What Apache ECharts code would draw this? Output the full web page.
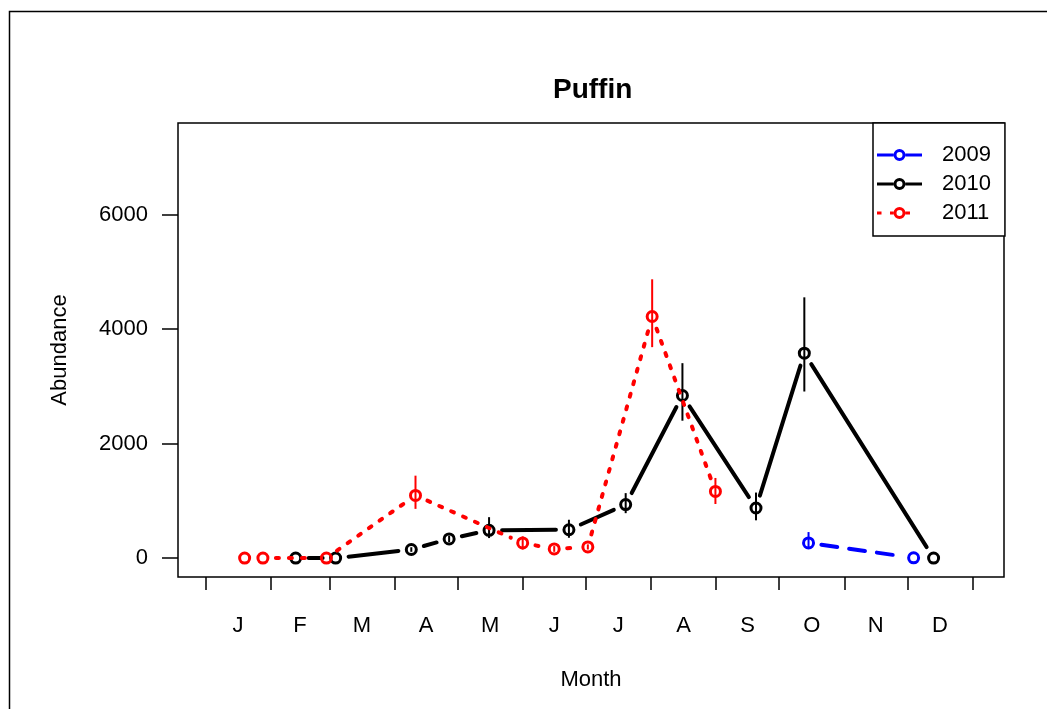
<!DOCTYPE html>
<html>
<head>
<meta charset="utf-8">
<title>Puffin</title>
<script src="https://cdn.jsdelivr.net/npm/echarts@6/dist/echarts.min.js"></script>
<style>
  html, body { margin: 0; padding: 0; background: #fff; }
  #chart { width: 1047px; height: 709px; }
</style>
</head>
<body>
<div id="chart"></div>
<script>
// day of year for month boundaries (ticks) and month middles (labels)
const monthStarts = [0, 31, 59, 90, 120, 151, 181, 212, 243, 273, 304, 334, 365]
const monthMids = [15.5, 45, 74.5, 105, 135.5, 166, 196.5, 227.5, 258, 288.5, 319, 349.5]
const monthLabels = ['J', 'F', 'M', 'A', 'M', 'J', 'J', 'A', 'S', 'O', 'N', 'D']
const yTicks = [0, 2000, 4000, 6000]

// 2009
const day2009 = [287, 337]
const abund2009 = [265, 5]
const lo2009 = [180, 5]
const hi2009 = [455, 5]

// 2010
const day2010 = [43, 62, 98, 116, 135, 173, 200, 227, 262, 285, 346.5]
const abund2010 = [0, 0, 150, 335, 485, 495, 935, 2840, 875, 3580, 0]
const lo2010 = [0, 0, 110, 280, 350, 355, 785, 2400, 660, 2910, 0]
const hi2010 = [0, 0, 190, 390, 715, 670, 1135, 3405, 1145, 4555, 0]

// 2011
const day2011 = [18.7, 27.4, 57.6, 100, 151, 166, 182, 212.6, 242.7]
const abund2011 = [0, 0, 0, 1095, 265, 160, 195, 4220, 1165]
const lo2011 = [0, 0, 0, 860, 150, 110, 150, 3685, 945]
const hi2011 = [0, 0, 0, 1440, 380, 210, 240, 4870, 1400]

const font = '"Liberation Sans", Arial, Helvetica, sans-serif'

function buildData(days, vals, lo, hi) {
  return days.map((d, i) => [d, vals[i], lo[i], hi[i]])
}

// R type = "b": circles, line segments that stop short of each point, plus error bars
function makeRender(color, dash, width) {
  const gap = 13
  return function(params, api) {
    const i = params.dataIndex
    const n = params.dataInsideLength
    const p = api.coord([api.value(0), api.value(1)])
    const children = []
    const lo = api.value(2)
    const hi = api.value(3)
    if (hi > lo) {
      const a = api.coord([api.value(0), lo])
      const b = api.coord([api.value(0), hi])
      children.push({
        type: 'line',
        shape: { x1: a[0], y1: a[1], x2: b[0], y2: b[1] },
        style: { stroke: color, lineWidth: 2 }
      })
    }
    if (i < n - 1) {
      const q = api.coord([api.value(0, i + 1), api.value(1, i + 1)])
      const dx = q[0] - p[0]
      const dy = q[1] - p[1]
      const len = Math.sqrt(dx * dx + dy * dy)
      if (len > 2 * gap) {
        const ux = dx / len
        const uy = dy / len
        children.push({
          type: 'line',
          shape: {
            x1: p[0] + ux * gap, y1: p[1] + uy * gap,
            x2: q[0] - ux * gap, y2: q[1] - uy * gap
          },
          style: { stroke: color, lineWidth: width, lineDash: dash, lineCap: 'round' }
        })
      }
    }
    children.push({
      type: 'circle',
      shape: { cx: p[0], cy: p[1], r: 5 },
      style: { fill: null, stroke: color, lineWidth: 3 }
    })
    return { type: 'group', children: children }
  }
}

const ring = 'M16.5,6 A6,6 0 1,1 28.5,6 A6,6 0 1,1 16.5,6 Z M19.5,6 A3,3 0 1,0 25.5,6 A3,3 0 1,0 19.5,6 Z'
const iconSolid = 'path://M0,0 M45,12 M0,4.5 L16.5,4.5 L16.5,7.5 L0,7.5 Z M28.5,4.5 L45,4.5 L45,7.5 L28.5,7.5 Z ' + ring
const iconDotted = 'path://M0,0 M45,12 M0,4.5 L4.5,4.5 L4.5,7.5 L0,7.5 Z M13,4.5 L16.5,4.5 L16.5,7.5 L13,7.5 Z M28.5,4.5 L33,4.5 L33,7.5 L28.5,7.5 Z ' + ring

const chart = echarts.init(document.getElementById('chart'))

chart.setOption({
  backgroundColor: '#fff',
  animation: false,
  title: {
    text: 'Puffin',
    left: 548,
    top: 71,
    textStyle: { fontFamily: font, fontSize: 28, fontWeight: 'bold', color: '#000' }
  },
  graphic: [{
    type: 'rect',
    shape: { x: 9.5, y: 11.5, width: 1200, height: 900 },
    style: { fill: null, stroke: '#000', lineWidth: 1.5 },
    silent: true
  }],
  legend: {
    orient: 'vertical',
    left: 873,
    top: 123,
    padding: [21, 14, 12, 4],
    itemGap: 7,
    itemWidth: 45,
    itemHeight: 12,
    borderColor: '#000',
    borderWidth: 1.5,
    backgroundColor: '#fff',
    itemStyle: { borderWidth: 0 },
    textStyle: { fontFamily: font, fontSize: 22, color: '#000', padding: [0, 0, 0, 15] },
    data: [
      { name: '2009', icon: iconSolid },
      { name: '2010', icon: iconSolid },
      { name: '2011', icon: iconDotted }
    ]
  },
  grid: {
    left: 178,
    right: 43,
    top: 123,
    bottom: 132,
    show: true,
    borderColor: '#000',
    borderWidth: 1.5,
    backgroundColor: 'transparent'
  },
  xAxis: {
    type: 'value',
    min: -13,
    max: 380,
    name: 'Month',
    nameLocation: 'middle',
    nameGap: 92,
    nameTextStyle: { fontFamily: font, fontSize: 22, color: '#000' },
    splitLine: { show: false },
    axisLine: { show: false, onZero: false },
    axisTick: {
      show: true,
      length: 13,
      customValues: monthStarts,
      lineStyle: { color: '#000', width: 1.5 }
    },
    axisLabel: {
      customValues: monthMids,
      margin: 38,
      fontFamily: font,
      fontSize: 22,
      color: '#000',
      formatter: function(v) {
        const i = monthMids.indexOf(v)
        return i >= 0 ? monthLabels[i] : ''
      }
    }
  },
  yAxis: {
    type: 'value',
    min: -330,
    max: 7600,
    name: 'Abundance',
    nameLocation: 'middle',
    nameGap: 107,
    nameTextStyle: { fontFamily: font, fontSize: 22, color: '#000' },
    splitLine: { show: false },
    axisLine: { show: false, onZero: false },
    axisTick: {
      show: true,
      length: 16,
      customValues: yTicks,
      lineStyle: { color: '#000', width: 1.5 }
    },
    axisLabel: {
      customValues: yTicks,
      margin: 30,
      fontFamily: font,
      fontSize: 22,
      color: '#000',
      formatter: function(v) { return String(v) }
    }
  },
  series: [{
    name: '2009',
    type: 'custom',
    itemStyle: { color: '#0000ff' },
    renderItem: makeRender('#0000ff', [16, 12], 4),
    encode: { x: 0, y: 1 },
    data: buildData(day2009, abund2009, lo2009, hi2009)
  }, {
    name: '2010',
    type: 'custom',
    itemStyle: { color: '#000000' },
    renderItem: makeRender('#000000', null, 4),
    encode: { x: 0, y: 1 },
    data: buildData(day2010, abund2010, lo2010, hi2010)
  }, {
    name: '2011',
    type: 'custom',
    itemStyle: { color: '#ff0000' },
    renderItem: makeRender('#ff0000', [3, 10], 4),
    encode: { x: 0, y: 1 },
    data: buildData(day2011, abund2011, lo2011, hi2011)
  }]
})
</script>
</body>
</html>
